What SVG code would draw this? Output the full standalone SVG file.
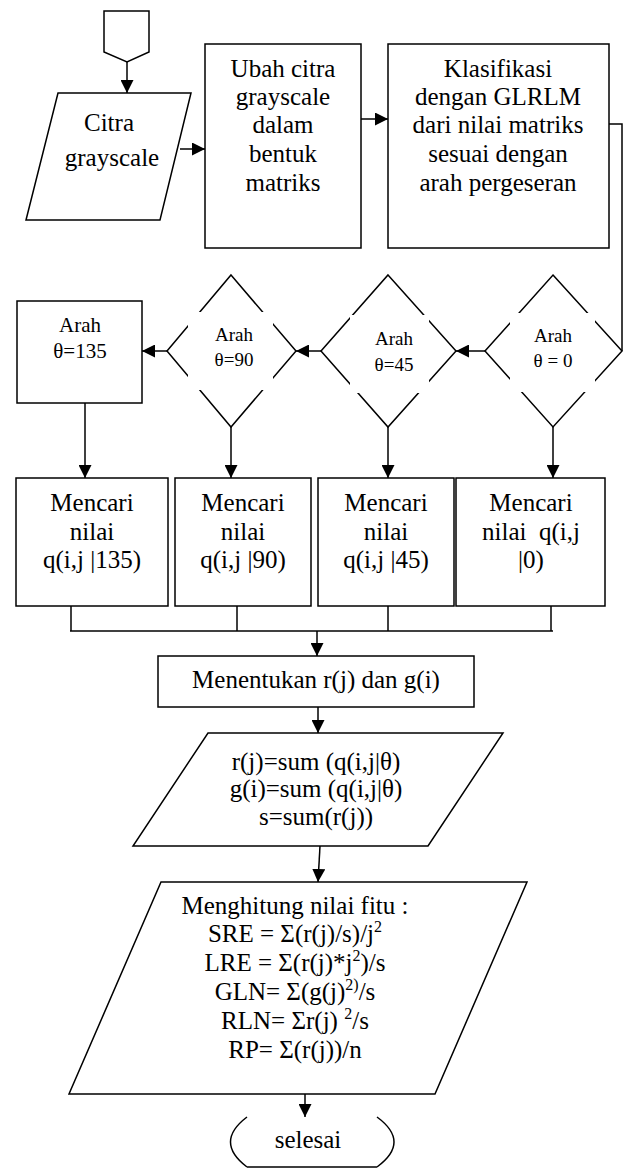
<svg xmlns="http://www.w3.org/2000/svg" width="623" height="1169" viewBox="0 0 623 1169">
<style>
.s{fill:#fff;stroke:#000;stroke-width:1.5}
.c{fill:none;stroke:#000;stroke-width:1.5}
text{font-family:'Liberation Serif','DejaVu Serif',serif;fill:#000;text-anchor:middle;font-size:25px}
.t21{font-size:21px}
.t19{font-size:19px}
.gap{fill:#fff;stroke:none}
</style>
<defs>
<marker id="ah" viewBox="0 0 10 10" refX="10" refY="5" markerWidth="13" markerHeight="13" orient="auto" markerUnits="userSpaceOnUse"><path d="M0,0 L10,5 L0,10 z" fill="#000"/></marker>
</defs>
<rect width="623" height="1169" fill="#fff"/>

<g id="connectors" class="c">
<line x1="127" y1="62" x2="127" y2="93" marker-end="url(#ah)"/>
<line x1="180" y1="149" x2="205" y2="149" marker-end="url(#ah)"/>
<line x1="361" y1="119" x2="388" y2="119" marker-end="url(#ah)"/>
<polyline points="609,124 622,124 622,351"/>
<line x1="485" y1="351" x2="456" y2="351" marker-end="url(#ah)"/>
<line x1="321" y1="351" x2="296" y2="351" marker-end="url(#ah)"/>
<line x1="167" y1="351" x2="142" y2="351" marker-end="url(#ah)"/>
<line x1="85" y1="403" x2="85" y2="478" marker-end="url(#ah)"/>
<line x1="231" y1="427" x2="231" y2="478" marker-end="url(#ah)"/>
<line x1="388" y1="427" x2="388" y2="478" marker-end="url(#ah)"/>
<line x1="553" y1="427" x2="553" y2="478" marker-end="url(#ah)"/>
<line x1="71" y1="606" x2="71" y2="631"/>
<line x1="237" y1="606" x2="237" y2="631"/>
<line x1="388" y1="606" x2="388" y2="631"/>
<line x1="551" y1="606" x2="551" y2="631"/>
<line x1="70" y1="631" x2="553" y2="631"/>
<line x1="317" y1="631" x2="317" y2="656" marker-end="url(#ah)"/>
<line x1="318" y1="707" x2="318" y2="733" marker-end="url(#ah)"/>
<line x1="320" y1="846" x2="318" y2="882" marker-end="url(#ah)"/>
<line x1="305" y1="1094" x2="305" y2="1117" marker-end="url(#ah)"/>
</g>

<g id="start">
<polygon class="s" points="104,11 149,11 149,52 127,62 104,52"/>
</g>

<g id="citra">
<polygon class="s" points="58,93 191,93 160,220 26,220"/>
<text x="109" y="131">Citra</text>
<text x="112" y="166">grayscale</text>
</g>

<g id="ubah">
<rect class="s" x="205" y="44" width="156" height="204"/>
<text x="283" y="77">Ubah citra</text>
<text x="283" y="105">grayscale</text>
<text x="283" y="133">dalam</text>
<text x="283" y="162">bentuk</text>
<text x="283" y="191">matriks</text>
</g>

<g id="klasifikasi">
<rect class="s" x="388" y="44" width="221" height="204"/>
<text x="498" y="77">Klasifikasi</text>
<text x="498" y="105">dengan GLRLM</text>
<text x="498" y="133">dari nilai matriks</text>
<text x="498" y="162">sesuai dengan</text>
<text x="498" y="191">arah pergeseran</text>
</g>

<g id="arah0">
<polygon class="s" points="553,275 622,351 553,427 485,351"/>
<rect class="gap" x="510" y="313" width="85" height="79"/>
<text class="t19" x="553" y="342">Arah</text>
<text class="t19" x="553" y="367">θ = 0</text>
</g>

<g id="arah45">
<polygon class="s" points="388,275 456,351 388,427 321,351"/>
<rect class="gap" x="350" y="315" width="79" height="78"/>
<text class="t19" x="394" y="345">Arah</text>
<text class="t19" x="394" y="371">θ=45</text>
</g>

<g id="arah90">
<polygon class="s" points="231,275 296,351 231,427 167,351"/>
<rect class="gap" x="188" y="312" width="85" height="78"/>
<text class="t19" x="234" y="341">Arah</text>
<text class="t19" x="234" y="366">θ=90</text>
</g>

<g id="arah135">
<rect class="s" x="17" y="301" width="125" height="102"/>
<text class="t21" x="80" y="332">Arah</text>
<text class="t21" x="80" y="358">θ=135</text>
</g>

<g id="q135">
<rect class="s" x="16" y="478" width="152" height="128"/>
<text x="92" y="511">Mencari</text>
<text x="92" y="540">nilai</text>
<text x="92" y="568">q(i,j |135)</text>
</g>

<g id="q90">
<rect class="s" x="175" y="478" width="136" height="128"/>
<text x="243" y="511">Mencari</text>
<text x="243" y="540">nilai</text>
<text x="243" y="568">q(i,j |90)</text>
</g>

<g id="q45">
<rect class="s" x="318" y="478" width="136" height="128"/>
<text x="386" y="511">Mencari</text>
<text x="386" y="540">nilai</text>
<text x="386" y="568">q(i,j |45)</text>
</g>

<g id="q0">
<rect class="s" x="456" y="478" width="149" height="128"/>
<text x="531" y="511">Mencari</text>
<text x="531" y="540" xml:space="preserve">nilai  q(i,j</text>
<text x="531" y="568">|0)</text>
</g>

<g id="menentukan">
<rect class="s" x="158" y="656" width="316" height="51"/>
<text x="316" y="688">Menentukan r(j) dan g(i)</text>
</g>

<g id="sum">
<polygon class="s" points="208,733 503,733 428,846 133,846"/>
<text x="316" y="770">r(j)=sum (q(i,j|θ)</text>
<text x="316" y="797">g(i)=sum (q(i,j|θ)</text>
<text x="316" y="825">s=sum(r(j))</text>
</g>

<g id="fitur">
<polygon class="s" points="161,882 527,882 435,1094 69,1094"/>
<text x="295" y="914">Menghitung nilai fitu :</text>
<text x="295" y="942">SRE = Σ(r(j)/s)/j<tspan font-size="16" dy="-10">2</tspan></text>
<text x="295" y="971">LRE = Σ(r(j)*j<tspan font-size="16" dy="-10">2</tspan><tspan dy="10">)/s</tspan></text>
<text x="295" y="1000">GLN= Σ(g(j)<tspan font-size="16" dy="-10">2)</tspan><tspan dy="10">/s</tspan></text>
<text x="295" y="1029" xml:space="preserve">RLN= Σr(j) <tspan font-size="16" dy="-10">2</tspan><tspan dy="10">/s</tspan></text>
<text x="295" y="1058">RP= Σ(r(j))/n</text>
</g>

<g id="selesai">
<path class="c" d="M247,1117 Q214,1142 247,1167 M377,1117 Q411,1142 377,1167 M247,1167 L377,1167"/>
<text x="308" y="1148">selesai</text>
</g>
</svg>
